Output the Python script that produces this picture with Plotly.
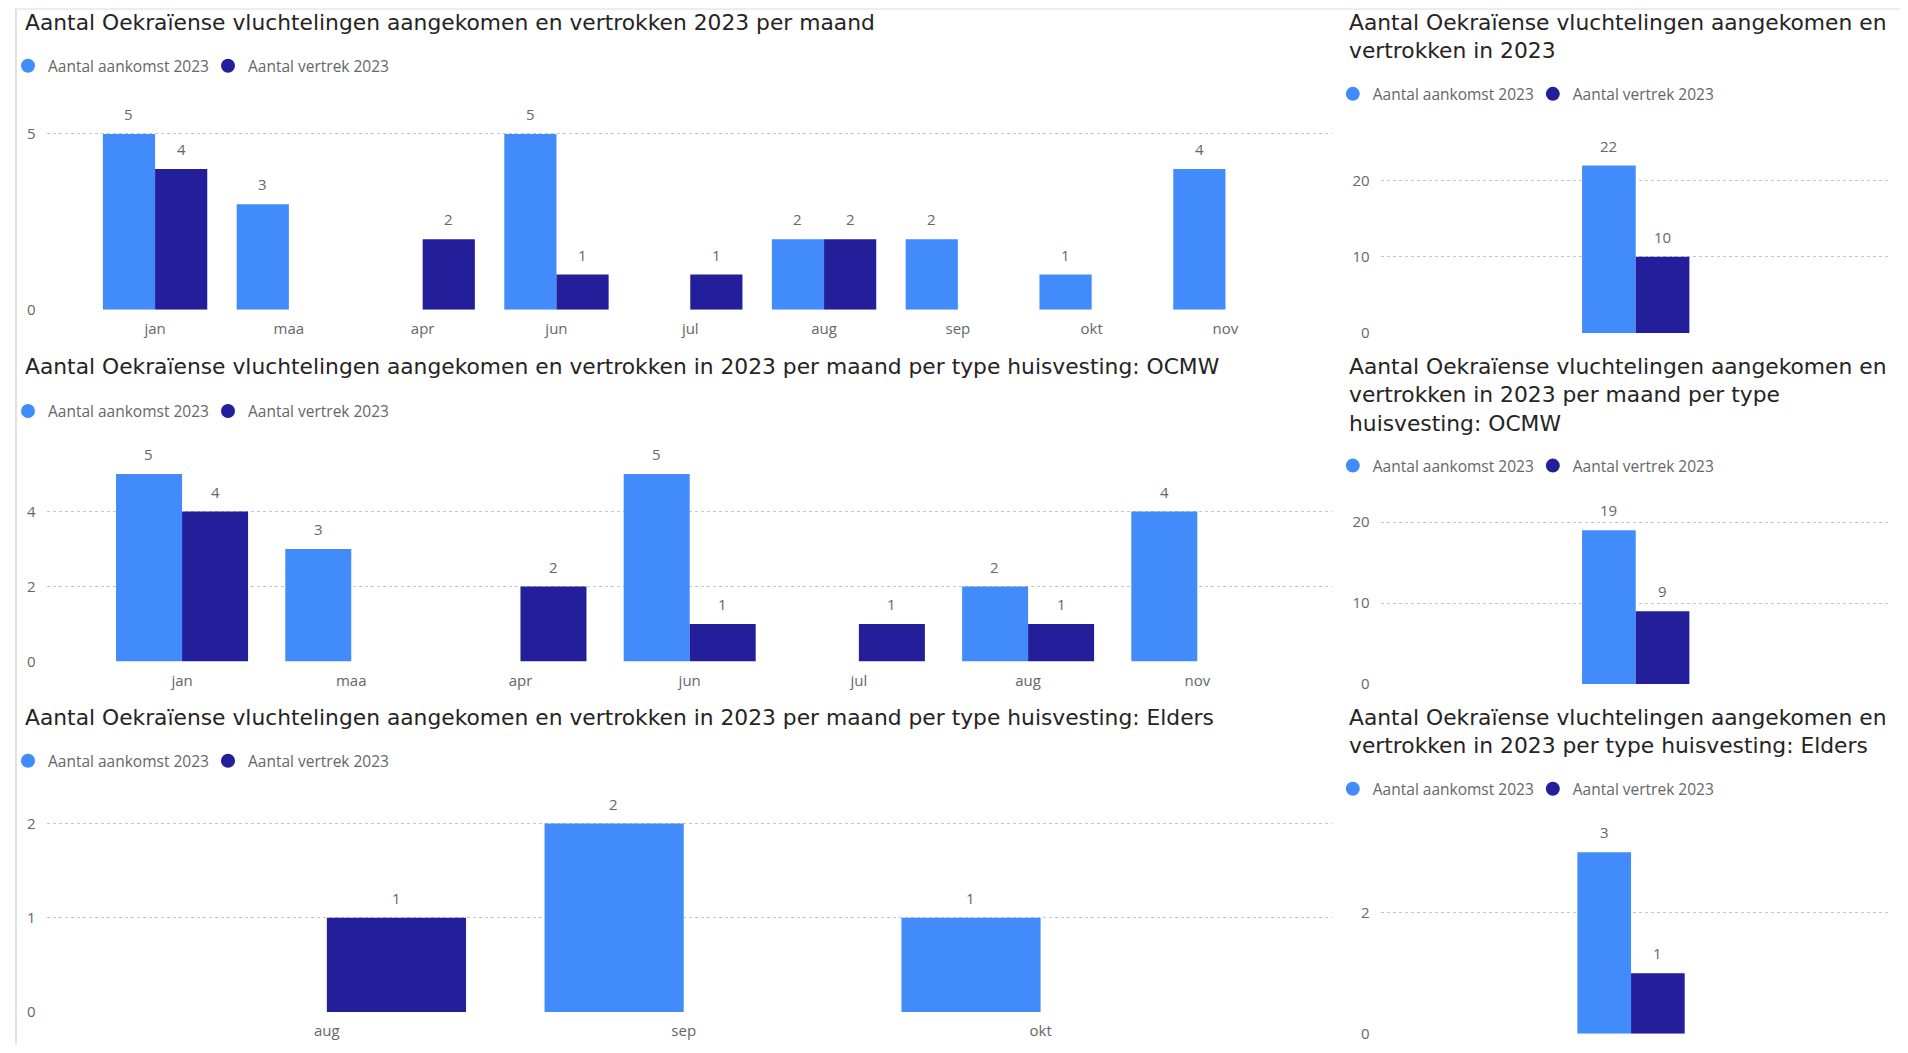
import plotly.graph_objects as go

# ---------------- data ----------------
series_names = ["Aantal aankomst 2023", "Aantal vertrek 2023"]

months_all = ["jan", "maa", "apr", "jun", "jul", "aug", "sep", "okt", "nov"]
arrivals_all = [5, 3, None, 5, None, 2, 2, 1, 4]
departures_all = [4, None, 2, 1, 1, 2, None, None, None]

months_ocmw = ["jan", "maa", "apr", "jun", "jul", "aug", "nov"]
arrivals_ocmw = [5, 3, None, 5, None, 2, 4]
departures_ocmw = [4, None, 2, 1, 1, 1, None]

months_elders = ["aug", "sep", "okt"]
arrivals_elders = [None, 2, 1]
departures_elders = [1, None, None]

total_cat = ["Totaal"]
arrivals_total = [22]
departures_total = [10]
arrivals_total_ocmw = [19]
departures_total_ocmw = [9]
arrivals_total_elders = [3]
departures_total_elders = [1]

titles = [
    "Aantal Oekraïense vluchtelingen aangekomen en vertrokken 2023 per maand",
    "Aantal Oekraïense vluchtelingen aangekomen en<br>vertrokken in 2023",
    "Aantal Oekraïense vluchtelingen aangekomen en vertrokken in 2023 per maand per type huisvesting: OCMW",
    "Aantal Oekraïense vluchtelingen aangekomen en<br>vertrokken in 2023 per maand per type<br>huisvesting: OCMW",
    "Aantal Oekraïense vluchtelingen aangekomen en vertrokken in 2023 per maand per type huisvesting: Elders",
    "Aantal Oekraïense vluchtelingen aangekomen en<br>vertrokken in 2023 per type huisvesting: Elders",
]

# ---------------- styling ----------------
C_ARR = "#418BFB"
C_DEP = "#231F9A"
TXT = "#666666"
TITLE_C = "#252423"
GRID = "#C8C6C4"
FONT = "Open Sans, Noto Sans, DejaVu Sans, sans-serif"
TITLE_FONT = "DejaVu Sans, Open Sans, sans-serif"
BARGAP = 0.22

# page coordinates (px) of the 1908x1053 screen; the html body adds an 8px margin
OFF = 8
FW, FH = 1900, 1045


def fx(X):
    return (X - OFF) / FW


def fy(Y):
    return 1 - (Y - OFF) / FH


L = dict(x0=40.8, x1=1330, tx=17.2, lx=1.5)
R = dict(x0=1379, x1=1891, tx=1345.5, lx=1331)

panels = [
    dict(side=L, k="", y0=312.3, unit=35.46, ymax=5.9, cats=months_all, a=arrivals_all, d=departures_all,
         xr=[-0.81, 8.795], tv=[0, 5], base=32.3, ly=66.7, xt=True),
    dict(side=R, k="2", y0=335.7, unit=7.67, ymax=25, cats=total_cat, a=arrivals_total, d=departures_total,
         xr=[-1.854, 1.856], tv=[0, 10, 20], base=32.3, ly=95, xt=False),
    dict(side=L, k="3", y0=667.3, unit=37.83, ymax=5.6, cats=months_ocmw, a=arrivals_ocmw, d=departures_ocmw,
         xr=[-0.80, 6.795], tv=[0, 2, 4], base=379.3, ly=415, xt=True),
    dict(side=R, k="4", y0=690, unit=8.17, ymax=23, cats=total_cat, a=arrivals_total_ocmw, d=departures_total_ocmw,
         xr=[-1.854, 1.856], tv=[0, 10, 20], base=379.3, ly=470, xt=False),
    dict(side=L, k="5", y0=1020.7, unit=95, ymax=2.4, cats=months_elders, a=arrivals_elders, d=departures_elders,
         xr=[-0.785, 2.816], tv=[0, 1, 2], base=733.3, ly=767.7, xt=True),
    dict(side=R, k="6", y0=1042.7, unit=61, ymax=3.5, cats=total_cat, a=arrivals_total_elders, d=departures_total_elders,
         xr=[-1.82, 1.89], tv=[0, 2], base=733.3, ly=796, xt=False),
]

fig = go.Figure()
layout = dict(
    width=FW, height=FH,
    margin=dict(l=0, r=0, t=0, b=0),
    paper_bgcolor="white", plot_bgcolor="white",
    barmode="group", bargap=BARGAP, bargroupgap=0,
    font=dict(family=FONT, color=TXT),
    annotations=[], shapes=[],
)

for i, p in enumerate(panels):
    sd = p["side"]
    k = p["k"]
    xa, ya = "x" + k, "y" + k
    leg = "legend" + ("" if i == 0 else str(i + 1))
    cat_px = (sd["x1"] - sd["x0"]) / (p["xr"][1] - p["xr"][0])
    bar_px = cat_px * (1 - BARGAP) / 2
    for j, (name, vals, col) in enumerate(((series_names[0], p["a"], C_ARR), (series_names[1], p["d"], C_DEP))):
        fig.add_trace(go.Bar(
            x=p["cats"], y=vals, name=name, marker=dict(color=col, line=dict(width=0)),
            xaxis=xa, yaxis=ya, showlegend=False, hoverinfo="y",
        ))
        fig.add_trace(go.Scatter(
            x=[None], y=[None], mode="markers", name=name,
            marker=dict(color=col, size=14, symbol="circle"),
            xaxis=xa, yaxis=ya, legend=leg, showlegend=True,
        ))
        # data labels above each bar
        for c, v in zip(p["cats"], vals):
            if v is None:
                continue
            layout["annotations"].append(dict(
                text=str(v), x=c, y=v, xref=xa, yref=ya, showarrow=False,
                xanchor="center", yanchor="middle", yshift=20,
                xshift=(-bar_px / 2 if j == 0 else bar_px / 2),
                font=dict(size=15, color=TXT, family=FONT),
            ))
    layout["xaxis" + k] = dict(
        domain=[fx(sd["x0"]), min(1, fx(sd["x1"]))], anchor=ya, type="category",
        range=p["xr"], showgrid=False, zeroline=False, showline=False,
        showticklabels=p["xt"], ticks="", ticklabelstandoff=8,
        tickfont=dict(size=15, color=TXT), fixedrange=True,
    )
    layout["yaxis" + k] = dict(
        domain=[max(0, fy(p["y0"])), fy(p["y0"] - p["ymax"] * p["unit"])], anchor=xa,
        range=[0, p["ymax"]], tickvals=p["tv"], showgrid=True, gridcolor=GRID, griddash="dot",
        gridwidth=1, zeroline=False, showline=False, ticks="", ticklabelstandoff=10,
        tickfont=dict(size=15, color=TXT), fixedrange=True,
    )
    layout[leg] = dict(
        orientation="h", x=fx(sd["lx"]), y=fy(p["ly"]), xanchor="left", yanchor="middle",
        font=dict(size=15.5, color=TXT, family=FONT), bgcolor="rgba(0,0,0,0)",
        itemclick=False, itemdoubleclick=False, entrywidthmode="pixels", entrywidth=155,
    )
    layout["annotations"].append(dict(
        text=titles[i], xref="paper", yref="paper", x=fx(sd["tx"]), y=fy(p["base"] - 24.5),
        xanchor="left", yanchor="top", align="left", showarrow=False,
        font=dict(size=21.8, color=TITLE_C, family=TITLE_FONT),
    ))

# faint panel border lines
layout["shapes"].append(dict(type="line", xref="paper", yref="paper", x0=fx(10), x1=fx(10), y0=1, y1=0,
                             line=dict(color="#E3E3E3", width=2)))
layout["shapes"].append(dict(type="line", xref="paper", yref="paper", x0=fx(10), x1=1, y0=1 - 1 / FH, y1=1 - 1 / FH,
                             line=dict(color="#EDEDED", width=2)))

fig.update_layout(**layout)
fig.write_html("out.html")
